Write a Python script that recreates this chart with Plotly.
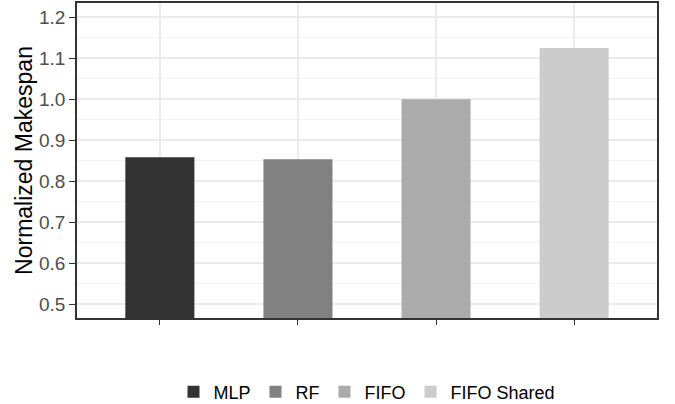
import plotly.graph_objects as go

categories = ["MLP", "RF", "FIFO", "FIFO Shared"]
values = [0.859, 0.854, 1.0, 1.125]
colors = ["#333333", "#818181", "#ABABAB", "#CCCCCC"]
y_ticks = [0.5, 0.6, 0.7, 0.8, 0.9, 1.0, 1.1, 1.2]

fig = go.Figure()
for c, v, col in zip(categories, values, colors):
    fig.add_trace(go.Bar(x=[c], y=[v], name=c, marker=dict(color=col, line=dict(width=0)),
                         width=0.5, showlegend=True))

font = "Liberation Sans, Arial, sans-serif"
fig.update_layout(
    width=675, height=404,
    margin=dict(l=77, r=18, t=3, b=86, autoexpand=False),
    paper_bgcolor="white", plot_bgcolor="white",
    barmode="overlay",
    font=dict(family=font, size=18, color="black"),
    legend=dict(orientation="h", x=0.5, xanchor="center", y=-0.235, yanchor="middle",
                font=dict(size=18, color="black"), traceorder="normal"),
    xaxis=dict(
        categoryorder="array", categoryarray=categories,
        range=[-0.6, 3.6],
        showticklabels=False,
        ticks="outside", ticklen=5, tickcolor="#333333", tickwidth=1.3,
        showgrid=True, gridcolor="#EBEBEB", gridwidth=1.5,
        showline=True, linecolor="#333333", linewidth=1.5, mirror=True,
        zeroline=False, automargin=False,
    ),
    yaxis=dict(
        range=[0.4666, 1.235],
        tickvals=y_ticks, ticktext=[f"{t:.1f}" for t in y_ticks],
        tickfont=dict(size=19, color="#4D4D4D"),
        ticks="outside", ticklen=6, tickcolor="#333333", tickwidth=1.3,
        showgrid=True, gridcolor="#EBEBEB", gridwidth=1.5,
        minor=dict(dtick=0.05, tick0=0.45, showgrid=True, gridcolor="#F2F2F2", gridwidth=1, ticks=""),
        showline=True, linecolor="#333333", linewidth=1.5, mirror=True,
        zeroline=False, automargin=False,
        title=dict(text="Normalized Makespan", font=dict(size=23, color="black"), standoff=0),
    ),
)

fig.write_html("out.html", post_script="document.body.style.margin='0';",
               config={"displayModeBar": False})
